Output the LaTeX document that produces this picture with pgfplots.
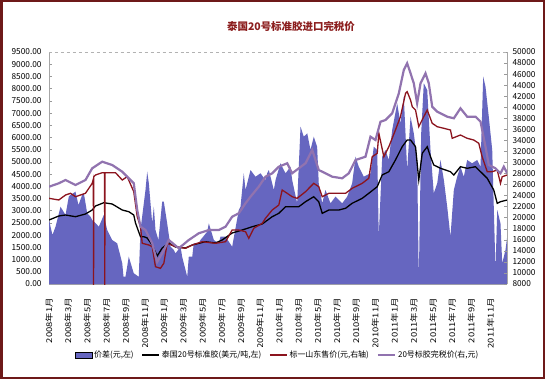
\documentclass[border=0pt]{standalone}
\usepackage{fontspec}
\setmainfont{Noto Sans CJK SC}
\usepackage{pgfplots}
\pgfplotsset{compat=1.18}
\usepackage{pgfplotstable}

\definecolor{areablue}{RGB}{102,102,192}
\definecolor{redline}{RGB}{140,20,30}
\definecolor{purpline}{RGB}{145,115,175}
\definecolor{framecol}{RGB}{110,25,25}
\definecolor{titlered}{RGB}{140,30,30}

\pgfplotstableread{
m L
0.0 2621
0.36 2007
0.68 2346
1.2 3165
1.72 2826
2.06 3575
2.24 3645
2.76 3780
3.07 3235
3.46 3645
3.63 3714
3.98 2895
4.32 2756
4.5 2621
4.84 2498
5.19 2346
5.71 2826
6.06 2211
6.58 1802
7.1 1667
7.63 848
7.76 299
7.97 299
8.31 1118
8.83 438
9.35 299
9.53 2211
10.05 3849
10.23 4599
10.4 4124
10.75 2486
10.92 3165
11.09 2211
11.4 1802
11.79 3370
11.96 3370
12.31 2486
12.66 1527
13.0 1392
13.18 1257
13.7 1527
13.87 1118
14.22 573
14.4 299
14.56 1118
14.92 1118
15.08 1667
15.6 1667
15.78 1802
16.48 2142
16.65 2486
17.17 1802
17.69 1667
17.86 1937
18.39 1937
19.08 1527
19.77 3030
19.95 3165
20.29 4533
20.47 3849
20.99 4668
21.51 4394
22.03 4533
22.55 4259
22.73 4533
22.9 4668
23.42 3849
23.6 4259
24.11 4943
24.64 4533
25.16 4803
25.33 4259
25.85 3305
26.2 6441
26.54 6032
26.9 6171
27.24 5487
27.58 6032
27.93 5622
28.1 4124
28.46 3305
28.8 3849
29.32 3305
29.84 3575
30.54 3305
31.06 3575
31.58 4124
31.93 5213
32.27 4803
32.79 4394
33.49 4533
33.83 5622
34.19 5487
34.35 1937
34.71 5213
35.05 5487
35.4 5078
35.75 6306
36.27 7400
36.61 6581
36.96 7670
37.31 4668
37.66 6851
38.0 6171
38.35 5078
38.52 164
38.77 6171
39.04 8219
39.4 7944
39.74 5487
40.08 3714
40.44 4124
40.78 5078
41.13 4259
41.48 3165
41.82 1937
42.17 3849
42.52 4394
42.86 4803
43.21 4394
43.56 5078
44.08 4943
44.6 5078
44.95 4803
45.23 8489
45.47 8080
45.81 6851
46.17 5487
46.51 573
46.69 3030
47.03 2486
47.21 848
47.55 1392
47.73 1937
}\areadata

\pgfplotstableread{
m L
0.0 2621
1.02 2785
1.72 2826
2.76 2756
3.80 2867
4.50 3030
4.84 3194
5.71 3329
6.58 3276
7.63 3030
8.31 2961
8.83 2826
9.01 2498
9.53 1937
9.88 1937
10.23 1884
10.75 1597
11.27 1147
11.79 1474
12.48 1679
13.18 1515
14.22 1474
14.92 1597
16.30 1732
17.34 1679
18.04 1802
19.08 2088
20.13 2211
21.17 2346
22.21 2457
23.25 2756
23.94 2895
24.64 3165
25.33 3165
26.02 3165
26.72 3370
27.58 3575
28.10 3370
28.46 2895
29.15 3030
30.19 3030
30.89 3100
31.58 3305
32.63 3509
33.31 3714
34.19 3984
34.71 4464
35.40 4599
36.09 5078
36.79 5622
37.31 5897
37.66 5897
38.18 5622
38.52 4259
38.88 5352
39.40 5622
39.74 5213
40.08 4873
40.78 4738
41.82 4599
42.17 4464
42.86 4803
43.56 4738
44.43 4803
44.95 4599
45.65 4328
46.33 3849
46.69 3305
47.03 3370
47.73 3440
}\blackdata

\pgfplotstableread{
m R
0 23514
1.02 23207
1.72 24112
2.24 24419
2.76 23804
3.8 24419
4.5 26230
4.62 27000
4.64 7000
4.67 27424
4.84 27732
5.54 28149
5.79 28149
5.81 7000
5.83 28149
6.93 28149
7.63 26827
8.15 27424
8.83 24709
9.19 20183
9.53 18373
9.71 15368
10.4 15060
10.75 14752
11.09 11132
11.61 10842
11.96 11747
12.31 15368
13.18 14752
14.22 14463
14.92 15060
15.96 15658
17.34 15368
18.39 15658
19.08 17776
19.77 17776
20.47 17468
20.81 16273
21.33 18083
22.21 18989
22.55 19894
23.25 21396
23.94 22301
24.29 25017
24.81 24419
25.33 23804
25.85 23514
26.72 24709
27.58 26230
28.1 25614
28.46 23804
29.15 24419
30.19 24419
30.89 24419
31.58 25325
32.63 26230
33.31 27135
33.67 31045
34.19 31661
34.36 35281
34.88 31045
35.4 32855
36.09 35879
36.61 38287
37.14 42523
37.31 42812
37.66 41309
37.84 40097
38.18 39499
38.52 36476
39.04 38287
39.4 39499
39.92 37091
40.44 36476
41.13 36186
41.82 35879
42.0 34376
42.86 34973
43.56 34376
44.25 34068
44.77 33471
45.12 31045
45.65 28330
46.17 28330
46.69 28637
47.03 26230
47.21 27424
47.73 27732
}\reddata

\pgfplotstableread{
m R
0 25614
1.02 26230
1.72 26827
2.76 25922
3.8 26827
4.5 28946
5.54 30140
6.58 29543
7.63 28330
8.31 27135
8.83 26230
9.19 21396
9.53 18373
10.05 17776
10.75 15368
11.27 12000
11.79 13558
12.48 15965
13.52 14463
14.56 15965
15.6 17178
16.65 17776
17.69 17776
18.39 18373
19.08 20183
19.77 20799
20.47 22609
20.99 23804
21.85 25614
22.55 27424
23.25 28040
23.94 29235
24.81 29851
25.33 28040
26.02 28946
26.72 29851
27.42 32258
28.1 28637
28.8 28040
29.5 27424
30.54 27135
31.23 28040
31.93 30448
32.97 31045
33.49 34666
34.01 34068
34.53 37381
35.05 37689
35.75 38902
36.44 42523
36.96 46740
37.31 47954
37.66 46143
38.0 44333
38.35 40712
38.7 44333
39.22 46143
39.56 44333
39.92 40097
40.44 39191
41.48 38287
42.17 37996
42.86 39806
43.56 38287
44.43 38287
44.95 37381
45.47 32855
45.81 29543
46.51 28946
47.03 28040
47.38 29235
47.73 28040
}\purpdata

\begin{document}
\begin{tikzpicture}[x=1bp,y=1bp]
\useasboundingbox (0,0) rectangle (545,379);
\fill[white] (0,0) rectangle (545,379);

\begin{axis}[
  at={(49bp,95bp)}, anchor=south west,
  width=458bp, height=232bp, scale only axis,
  xmin=0, xmax=47.71, ymin=0, ymax=9500,
  axis x line*=bottom, axis y line*=left,
  axis line style={draw=gray!70, line width=0.6bp},
  xtick={0,2,...,46},
  xticklabels={2008年1月,2008年3月,2008年5月,2008年7月,2008年9月,2008年11月,
    2009年1月,2009年3月,2009年5月,2009年7月,2009年9月,2009年11月,
    2010年1月,2010年3月,2010年5月,2010年7月,2010年9月,2010年11月,
    2011年1月,2011年3月,2011年5月,2011年7月,2011年9月,2011年11月},
  xtick style={draw=none},
  x tick label style={rotate=90, xscale=1.18, anchor=east, font=\fontsize{8}{9}\selectfont},
  xticklabel shift=10bp,
  ytick={0,500,...,9500},
  yticklabel style={font=\fontsize{8.3}{9}\selectfont, xshift=-4bp},
  /pgf/number format/fixed, /pgf/number format/fixed zerofill,
  /pgf/number format/precision=2, /pgf/number format/1000 sep={},
  /pgf/number format/assume math mode=true,
  tick align=inside, major tick length=3bp,
  ytick style={draw=gray!80, line width=0.5bp},
]
\addplot[fill=areablue, draw=none] table[x=m, y=L] {\areadata} \closedcycle;
\addplot[black, line width=1.3bp] table[x=m, y=L] {\blackdata};
\end{axis}

\begin{axis}[
  at={(49bp,95bp)}, anchor=south west,
  width=458bp, height=232bp, scale only axis,
  xmin=0, xmax=47.71, ymin=8000, ymax=50000,
  axis y line*=right, axis x line=none,
  axis line style={draw=gray!70, line width=0.6bp},
  ytick={8000,10000,...,50000},
  scaled y ticks=false,
  yticklabel style={font=\fontsize{8.3}{9}\selectfont, xshift=2bp},
  /pgf/number format/1000 sep={}, /pgf/number format/assume math mode=true,
  tick align=inside, major tick length=3bp,
  ytick style={draw=gray!80, line width=0.5bp},
  legend columns=4,
  legend style={at={(0.499,-0.306)}, anchor=center, draw=none, fill=white,
    font=\fontsize{8}{9}\selectfont,
    /tikz/every even column/.append style={column sep=6bp}},
  legend cell align=left,
]
\addlegendimage{area legend, fill=areablue, draw=none}
\addlegendentry{价差(元,左)}
\addlegendimage{black, line width=1.3bp}
\addlegendentry{泰国20号标准胶(美元/吨,左)}
\addplot[redline, line width=1.3bp] table[x=m, y=R] {\reddata};
\addlegendentry{标一山东售价(元,右轴)}
\addplot[purpline, line width=2.2bp] table[x=m, y=R] {\purpdata};
\addlegendentry{20号标胶完税价(右,元)}
\end{axis}

\draw[gray!60, dashed, line width=0.6bp] (49,327) -- (507,327);
\node[font=\fontsize{10.5}{12}\selectfont\bfseries, text=titlered] at (291,352) {泰国20号标准胶进口完税价};
\draw[framecol, line width=2.5bp] (1.25,1.25) rectangle (543.75,377.75);
\end{tikzpicture}
\end{document}
